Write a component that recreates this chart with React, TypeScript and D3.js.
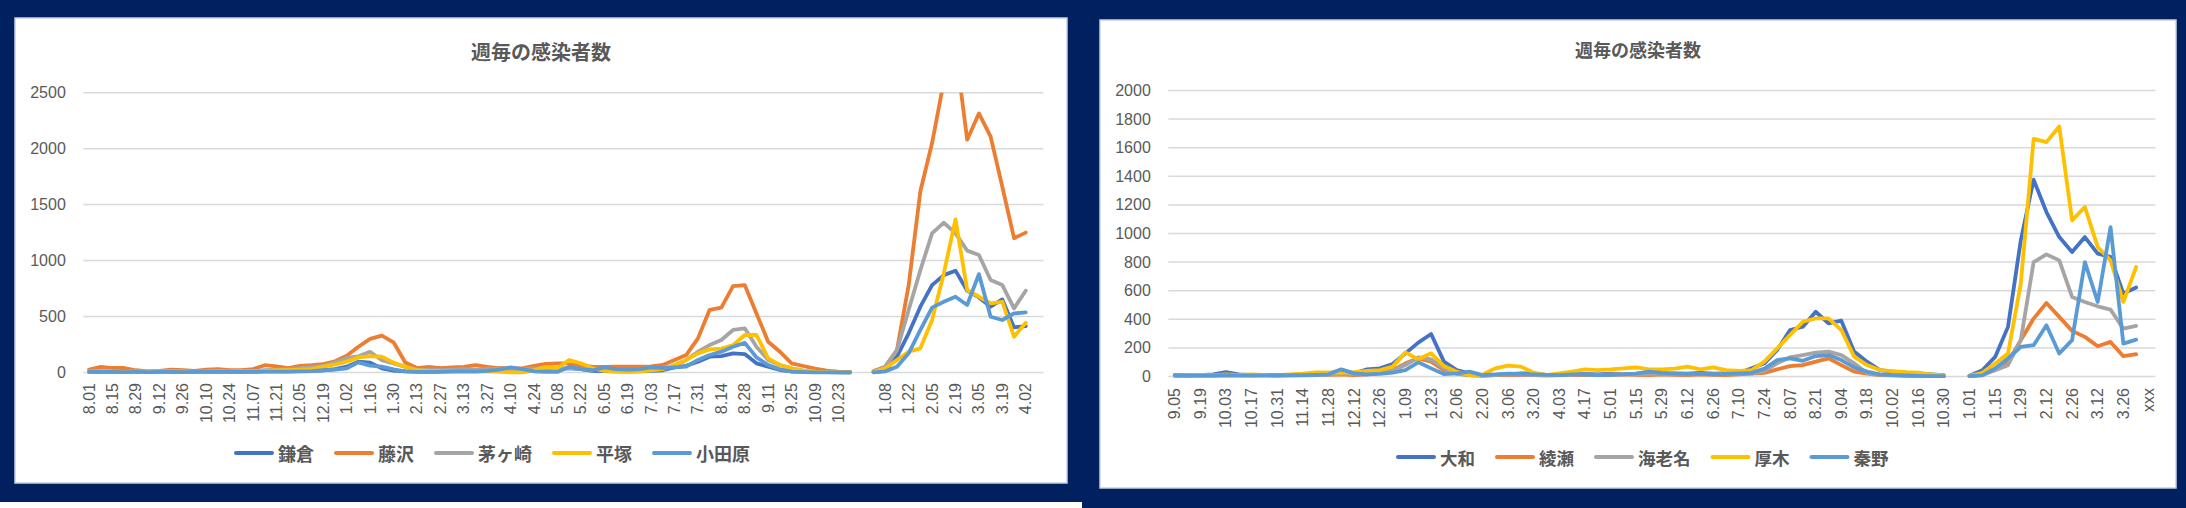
import * as React from 'react'
import * as d3 from 'd3'

// left chart: weekly counts, 2020-08-01 .. 2022-04-09
const leftCategories = [
  '8.01', '8.08', '8.15', '8.22', '8.29', '9.05', '9.12', '9.19', '9.26', '10.03',
  '10.10', '10.17', '10.24', '10.31', '11.07', '11.14', '11.21', '11.28', '12.05', '12.12',
  '12.19', '12.26', '1.02', '1.09', '1.16', '1.23', '1.30', '2.06', '2.13', '2.20',
  '2.27', '3.06', '3.13', '3.20', '3.27', '4.03', '4.10', '4.17', '4.24', '5.01',
  '5.08', '5.15', '5.22', '5.29', '6.05', '6.12', '6.19', '6.26', '7.03', '7.10',
  '7.17', '7.24', '7.31', '8.07', '8.14', '8.21', '8.28', '9.04', '9.11', '9.18',
  '9.25', '10.02', '10.09', '10.16', '10.23', '10.30', '', '1.01', '1.08', '1.15',
  '1.22', '1.29', '2.05', '2.12', '2.19', '2.26', '3.05', '3.12', '3.19', '3.26',
  '4.02', '4.09',
]
const leftNames = ['鎌倉', '藤沢', '茅ヶ崎', '平塚', '小田原']
const leftTicks = [0, 500, 1000, 1500, 2000, 2500]

const kamakura = [
  5, 8, 6, 5, 5, 4, 5, 6, 5, 5,
  6, 5, 6, 5, 8, 10, 12, 10, 12, 15,
  20, 30, 52, 97, 88, 37, 16, 10, 8, 6,
  8, 10, 12, 10, 12, 15, 20, 18, 15, 20,
  25, 40, 30, 15, 12, 10, 10, 12, 15, 20,
  45, 60, 97, 141, 147, 171, 165, 82, 52, 22,
  10, 5, 3, 3, 2, 2, null, 3, 15, 141,
  350, 588, 781, 870, 910, 731, 671, 588, 653, 403,
  415, null,
]
const fujisawa = [
  25, 50, 40, 40, 20, 10, 15, 25, 20, 15,
  25, 30, 20, 20, 30, 65, 55, 40, 60, 65,
  75, 100, 150, 230, 300, 330, 270, 90, 40, 50,
  40, 46, 50, 67, 50, 40, 37, 37, 60, 76,
  82, 82, 60, 52, 50, 52, 52, 52, 55, 67,
  112, 156, 305, 560, 580, 772, 781, 528, 275, 186,
  82, 58, 34, 16, 7, 5, null, 13, 52, 200,
  780, 1620, 2050, 2600, 2900, 2080, 2315, 2107, 1660, 1200,
  1250, null,
]
const chigasaki = [
  10, 12, 10, 8, 10, 8, 10, 12, 10, 8,
  10, 12, 10, 15, 12, 20, 25, 30, 40, 50,
  60, 90, 130, 145, 185, 110, 80, 50, 25, 20,
  20, 25, 30, 25, 30, 35, 30, 30, 35, 40,
  35, 40, 35, 30, 30, 30, 25, 25, 30, 40,
  58, 112, 186, 245, 290, 380, 395, 230, 112, 67,
  37, 16, 8, 5, 3, 2, null, 5, 52, 200,
  558, 915, 1243, 1339, 1243, 1089, 1050, 826, 781, 573,
  731, null,
]
const hiratsuka = [
  8, 10, 8, 6, 8, 6, 8, 10, 8, 6,
  8, 10, 8, 10, 10, 15, 20, 20, 25, 30,
  52, 73, 97, 135, 147, 141, 88, 52, 20, 15,
  15, 12, 15, 12, 10, 8, 2, 2, 20, 50,
  40, 112, 82, 37, 15, 10, 5, 8, 20, 30,
  67, 112, 171, 207, 213, 245, 335, 335, 126, 67,
  37, 16, 8, 5, 3, 2, null, 3, 37, 112,
  186, 216, 469, 885, 1368, 737, 677, 618, 632, 320,
  445, null,
]
const odawara = [
  5, 5, 5, 4, 5, 4, 5, 5, 4, 5,
  5, 5, 5, 5, 6, 8, 8, 8, 10, 12,
  20, 25, 37, 91, 61, 52, 28, 10, 5, 5,
  8, 10, 12, 10, 15, 25, 46, 30, 10, 5,
  5, 52, 31, 20, 46, 30, 25, 30, 46, 40,
  46, 52, 112, 156, 186, 230, 265, 135, 67, 28,
  7, 4, 2, 2, 2, 2, null, 2, 10, 52,
  171, 380, 580, 632, 677, 603, 879, 498, 469, 528,
  537, null,
]

// right chart: weekly counts, 2020-09-05 .. 2022-04-02
const rightCategories = [
  '9.05', '9.12', '9.19', '9.26', '10.03', '10.10', '10.17', '10.24', '10.31', '11.07',
  '11.14', '11.21', '11.28', '12.05', '12.12', '12.19', '12.26', '1.02', '1.09', '1.16',
  '1.23', '1.30', '2.06', '2.13', '2.20', '2.27', '3.06', '3.13', '3.20', '3.27',
  '4.03', '4.10', '4.17', '4.24', '5.01', '5.08', '5.15', '5.22', '5.29', '6.05',
  '6.12', '6.19', '6.26', '7.03', '7.10', '7.17', '7.24', '7.31', '8.07', '8.14',
  '8.21', '8.28', '9.04', '9.11', '9.18', '9.25', '10.02', '10.09', '10.16', '10.23',
  '10.30', '', '1.01', '1.08', '1.15', '1.22', '1.29', '2.05', '2.12', '2.19',
  '2.26', '3.05', '3.12', '3.19', '3.26', '4.02', 'xxx',
]
const rightNames = ['大和', '綾瀬', '海老名', '厚木', '秦野']
const rightTicks = [0, 200, 400, 600, 800, 1000, 1200, 1400, 1600, 1800, 2000]

const yamato = [
  10, 8, 10, 15, 30, 15, 10, 10, 10, 12,
  10, 12, 20, 45, 22, 50, 57, 87, 162, 237,
  297, 104, 45, 22, 10, 12, 15, 22, 20, 12,
  10, 15, 18, 15, 20, 18, 20, 25, 20, 22,
  20, 25, 20, 22, 25, 57, 92, 185, 325, 348,
  453, 372, 390, 174, 104, 45, 34, 27, 20, 15,
  10, null, 5, 44, 137, 347, 952, 1376, 1150, 975,
  871, 975, 859, 836, 580, 622, null,
]
const ayase = [
  5, 5, 8, 5, 10, 8, 10, 8, 5, 8,
  10, 15, 12, 15, 10, 15, 25, 45, 92, 127,
  104, 45, 20, 10, 5, 10, 12, 10, 10, 8,
  10, 10, 12, 10, 12, 15, 12, 10, 15, 12,
  10, 15, 12, 10, 15, 20, 25, 50, 73, 80,
  104, 127, 80, 34, 20, 10, 8, 5, 5, 3,
  2, null, 3, 15, 49, 102, 254, 405, 514, 417,
  319, 277, 212, 242, 142, 156, null,
]
const ebina = [
  5, 6, 5, 8, 10, 8, 6, 8, 8, 10,
  8, 10, 12, 20, 15, 15, 25, 40, 80, 134,
  120, 57, 20, 10, 8, 10, 15, 12, 10, 8,
  10, 12, 15, 12, 15, 18, 15, 15, 20, 15,
  15, 18, 15, 15, 18, 20, 40, 92, 134, 150,
  167, 174, 150, 92, 25, 12, 10, 8, 5, 3,
  2, null, 3, 10, 44, 79, 254, 800, 854, 812,
  556, 521, 491, 468, 335, 354, null,
]
const atsugi = [
  10, 10, 12, 10, 15, 12, 15, 12, 10, 15,
  20, 29, 29, 25, 30, 40, 45, 69, 169, 120,
  162, 73, 34, 10, 12, 57, 76, 69, 27, 10,
  22, 34, 50, 45, 50, 57, 64, 50, 50, 55,
  69, 50, 64, 45, 40, 45, 104, 197, 290, 383,
  407, 407, 325, 139, 80, 45, 38, 30, 27, 15,
  8, null, 5, 26, 91, 160, 650, 1662, 1639, 1748,
  1092, 1185, 906, 812, 521, 766, null,
]
const hadano = [
  10, 8, 8, 8, 10, 8, 8, 8, 10, 10,
  10, 12, 15, 50, 22, 15, 18, 27, 45, 99,
  57, 17, 22, 34, 10, 15, 20, 18, 15, 12,
  10, 15, 15, 10, 12, 15, 20, 34, 25, 20,
  18, 20, 15, 18, 22, 25, 55, 115, 127, 110,
  143, 150, 115, 64, 34, 15, 10, 8, 5, 3,
  2, null, 3, 8, 56, 126, 207, 219, 358, 161,
  254, 800, 521, 1045, 230, 258, null,
]

const palette = ['#4472C4', '#ED7D31', '#A5A5A5', '#FFC000', '#5B9BD5']
const TEXT = '#595959'
const GRID = '#d9d9d9'
const NUM_FONT = '"Liberation Sans", Arial, sans-serif'
const JP_FONT = '"Noto Sans CJK JP", sans-serif'

interface Box { left: number; top: number; right: number; bottom: number }

interface ChartProps {
  id: string
  panel: Box
  plot: Box
  categories: string[]
  names: string[]
  values: (number | null)[][]
  ticks: number[]
  titleY: number
  titleSize: number
  labelTop: number
  legendX: number
  legendY: number
  legendSize: number
}

const LineChart = ({
  id, panel, plot, categories, names, values, ticks,
  titleY, titleSize, labelTop, legendX, legendY, legendSize,
}: ChartProps) => {
  const x = d3.scaleBand<number>()
    .domain(d3.range(categories.length))
    .range([plot.left, plot.right])
    .padding(0)
  const xc = (i: number) => (x(i) as number) + x.bandwidth() / 2
  const y = d3.scaleLinear()
    .domain([0, d3.max(ticks) as number])
    .range([plot.bottom, plot.top])

  const line = d3.line<number | null>()
    .defined(v => v != null)
    .x((_, i) => xc(i))
    .y(v => y(v as number))

  // legend layout: swatch, gap, text, gap
  let cursor = legendX
  const legend = names.map((name, i) => {
    const start = cursor
    const textW = name.length * legendSize
    cursor += 40 + 4 + textW + 20
    return { name, i, start }
  })

  return (
    <g>
      <defs>
        <clipPath id={id}>
          <rect x={plot.left} y={plot.top} width={plot.right - plot.left} height={plot.bottom - plot.top + 12} />
        </clipPath>
      </defs>
      <rect x={panel.left} y={panel.top} width={panel.right - panel.left} height={panel.bottom - panel.top}
        fill="#fff" stroke="#c8cfe0" strokeWidth={1.5} />
      <text x={(panel.left + panel.right) / 2} y={titleY} textAnchor="middle" dominantBaseline="central"
        fontFamily={JP_FONT} fontWeight="bold" fontSize={titleSize} fill={TEXT}>週毎の感染者数</text>

      {ticks.map(t => (
        <g key={t}>
          <line x1={plot.left} x2={plot.right} y1={y(t)} y2={y(t)} stroke={GRID} strokeWidth={1.5} />
          <text x={plot.left - 17.5} y={y(t)} textAnchor="end" dominantBaseline="central"
            fontFamily={NUM_FONT} fontSize={16} fill={TEXT}>{t}</text>
        </g>
      ))}

      {categories.map((c, i) => (i % 2 === 0 && c !== '' ? (
        <text key={i} transform={`translate(${xc(i)},${labelTop}) rotate(-90)`} textAnchor="end"
          dominantBaseline="central" fontFamily={NUM_FONT} fontSize={16} fill={TEXT}>{c}</text>
      ) : null))}

      <g clipPath={`url(#${id})`}>
        {values.map((vals, i) => (
          <path key={i} d={line(vals) || ''} fill="none" stroke={palette[i]} strokeWidth={3.8}
            strokeLinejoin="round" strokeLinecap="round" />
        ))}
      </g>

      {legend.map(({ name, i, start }) => (
        <g key={name}>
          <line x1={start + 2} x2={start + 38} y1={legendY} y2={legendY} stroke={palette[i]}
            strokeWidth={4} strokeLinecap="round" />
          <text x={start + 44} y={legendY} dominantBaseline="central" fontFamily={JP_FONT}
            fontWeight="bold" fontSize={legendSize} fill={TEXT}>{name}</text>
        </g>
      ))}
    </g>
  )
}

export default function App() {
  return (
    <div style={{ position: 'fixed', left: 0, top: 0 }}>
      <svg width={2186} height={508} style={{ display: 'block' }}>
        <rect x={0} y={0} width={2186} height={508} fill="#002060" />
        <rect x={0} y={502} width={1082} height={6} fill="#fff" />
        <LineChart
          id="clip-left"
          panel={{ left: 15, top: 18, right: 1067, bottom: 483 }}
          plot={{ left: 83.3, top: 92.7, right: 1043.3, bottom: 372.5 }}
          categories={leftCategories}
          names={leftNames}
          values={[kamakura, fujisawa, chigasaki, hiratsuka, odawara]}
          ticks={leftTicks}
          titleY={51}
          titleSize={20}
          labelTop={383}
          legendX={234}
          legendY={453}
          legendSize={18}
        />
        <LineChart
          id="clip-right"
          panel={{ left: 1100, top: 20, right: 2176, bottom: 488 }}
          plot={{ left: 1168.3, top: 90.5, right: 2155.4, bottom: 376.5 }}
          categories={rightCategories}
          names={rightNames}
          values={[yamato, ayase, ebina, atsugi, hadano]}
          ticks={rightTicks}
          titleY={49}
          titleSize={18}
          labelTop={388}
          legendX={1396}
          legendY={457}
          legendSize={17.5}
        />
      </svg>
    </div>
  )
}
